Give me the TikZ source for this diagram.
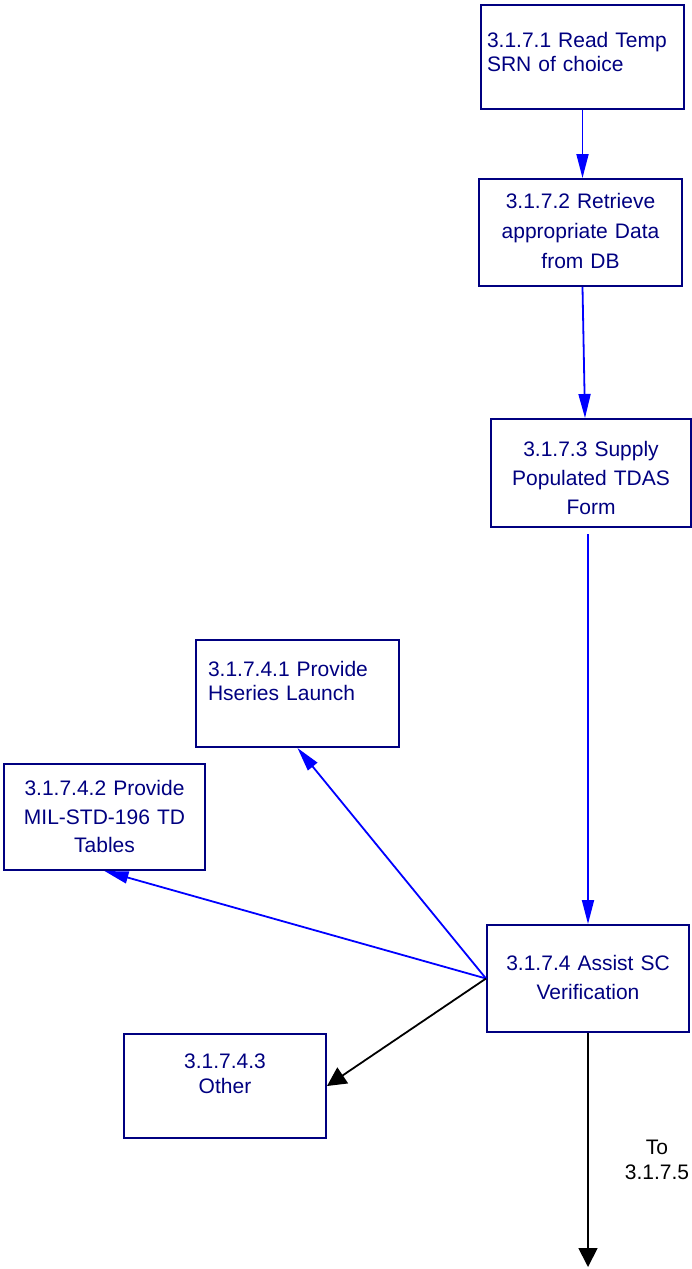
\documentclass[tikz,border=0pt]{standalone}
\usepackage{fontspec}
\setmainfont{Liberation Sans}
\usepackage{tikz}
\usetikzlibrary{arrows.meta,positioning}
\definecolor{FlowNavy}{HTML}{000080}
\definecolor{FlowBlue}{HTML}{0000FF}
\newcommand{\boxfont}[1]{\fontsize{21}{#1}\selectfont}
\tikzset{
  procbox/.style={draw=FlowNavy,line width=2pt,text=FlowNavy,anchor=north west,inner ysep=0pt},
  leftbox/.style={procbox,align=left},
  midbox/.style={procbox,align=center,inner xsep=5pt},
  bluearrow/.style={-{Triangle[length=24pt,width=12pt]},line width=1.8pt,draw=FlowBlue},
  blackarrow/.style={-{Triangle[length=19pt,width=19pt]},line width=1.8pt,draw=black}
}

\begin{document}
\begin{tikzpicture}[x=1pt,y=-1pt]
\useasboundingbox (0,0) rectangle (691,1269);
\node[leftbox,inner xsep=6pt,text width=191pt,font=\boxfont{24},text height=42.5pt,text depth=61.5pt] (b1) at (480,4) {3.1.7.1 Read Temp\\SRN of choice};
\node[midbox,text width=193pt,font=\boxfont{30},text height=29.5pt,text depth=77.5pt] (b2) at (478,178) {3.1.7.2 Retrieve\\appropriate Data\\from DB};
\node[midbox,text width=190pt,font=\boxfont{29},text height=37.5pt,text depth=70.5pt] (b3) at (490,418) {3.1.7.3 Supply\\Populated TDAS\\Form};
\node[leftbox,inner xsep=12pt,text width=179pt,font=\boxfont{24},text height=36.5pt,text depth=70.5pt] (b41) at (195,639) {3.1.7.4.1 Provide\\Hseries Launch};
\node[midbox,text width=191pt,font=\boxfont{28.5},text height=31.5pt,text depth=74.5pt] (b42) at (3,763) {3.1.7.4.2 Provide\\MIL-STD-196 TD\\Tables};
\node[midbox,text width=192pt,font=\boxfont{29},text height=45.5pt,text depth=61.5pt] (b4) at (486,924) {3.1.7.4 Assist SC\\Verification};
\node[midbox,text width=192pt,font=\boxfont{25},text height=34.5pt,text depth=69.5pt] (b43) at (123,1033) {3.1.7.4.3\\Other};
\coordinate (exit) at (587,1267);
\node[font=\boxfont{25},align=center] (tonext) at (657,1160) {To\\3.1.7.5};
\draw[bluearrow] (b1.south) -- (b1.south |- b2.north);
\draw[bluearrow] ([xshift=2pt]b2.south) -- ([xshift=-6pt]b3.north);
\draw[bluearrow] ([yshift=-6pt]b4.north |- b3.south) -- (b4.north);
\draw[bluearrow] (b4.west) -- (b41.south);
\draw[bluearrow] (b4.west) -- (b42.south);
\draw[blackarrow] (b4.west) -- (b43.east);
\draw[blackarrow] (b4.south) -- (b4.south |- exit);
\end{tikzpicture}
\end{document}
